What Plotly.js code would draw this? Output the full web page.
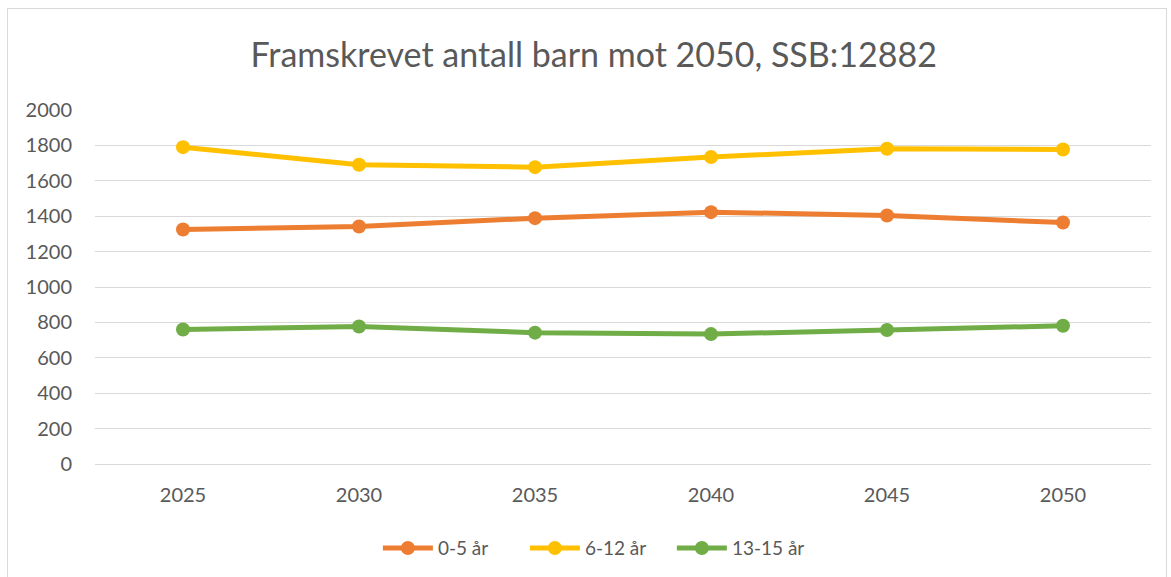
<!DOCTYPE html>
<html>
<head>
<meta charset="utf-8">
<script src="https://cdn.plot.ly/plotly-3.0.1.min.js"></script>
<style>
html,body{margin:0;padding:0;background:#fff;}
#chart{width:1171px;height:577px;}
#frame{position:absolute;left:7px;top:8px;width:1158px;height:575px;border:1px solid #d9d9d9;pointer-events:none;}
</style>
</head>
<body>
<div id="chart"></div>
<div id="frame"></div>
<script>
const years = ["2025","2030","2035","2040","2045","2050"];
const seriesNames = ["0-5 år","6-12 år","13-15 år"];
const age0_5 = [1325, 1342, 1389, 1423, 1404, 1364];
const age6_12 = [1790, 1691, 1677, 1734, 1781, 1777];
const age13_15 = [760, 777, 742, 734, 757, 781];
const colors = ["#ED7D31", "#FFC000", "#70AD47"];
const allValues = [age0_5, age6_12, age13_15];

const traces = allValues.map((v, i) => ({
  x: years, y: v, name: seriesNames[i], type: "scatter", mode: "lines+markers",
  line: {color: colors[i], width: 5},
  marker: {color: colors[i], size: 14}
}));

const font = "Lato, 'Open Sans', sans-serif";
const layout = {
  width: 1171, height: 577,
  margin: {l: 95, r: 20, t: 110, b: 113},
  paper_bgcolor: "#fff", plot_bgcolor: "#fff",
  font: {family: font, color: "#595959", size: 20},
  title: {text: "Framskrevet antall barn mot 2050, SSB:12882", x: 0.507, xanchor: "center", y: 0.905, yanchor: "middle",
          font: {family: font, size: 34, color: "#595959"}},
  xaxis: {type: "category", range: [-0.5, 5.5], showgrid: false, zeroline: false,
          showline: true, linecolor: "#d9d9d9", linewidth: 1, ticks: "", ticklabelstandoff: 13,
          tickfont: {size: 20, color: "#595959"}},
  yaxis: {range: [0, 2000], dtick: 200, tick0: 0, showgrid: true, gridcolor: "#d9d9d9", gridwidth: 1,
          zeroline: false, showline: false, ticks: "", ticklabelstandoff: 22,
          tickfont: {size: 20, color: "#595959"}},
  legend: {orientation: "h", xref: "container", yref: "container", x: 0.511, xanchor: "center", y: 0.05, yanchor: "middle",
           font: {size: 19, color: "#595959"}, itemclick: false, itemwidth: 50, entrywidth: 82},
  showlegend: true
};
Plotly.newPlot("chart", traces, layout, {displayModeBar: false, staticPlot: true});
</script>
</body>
</html>
